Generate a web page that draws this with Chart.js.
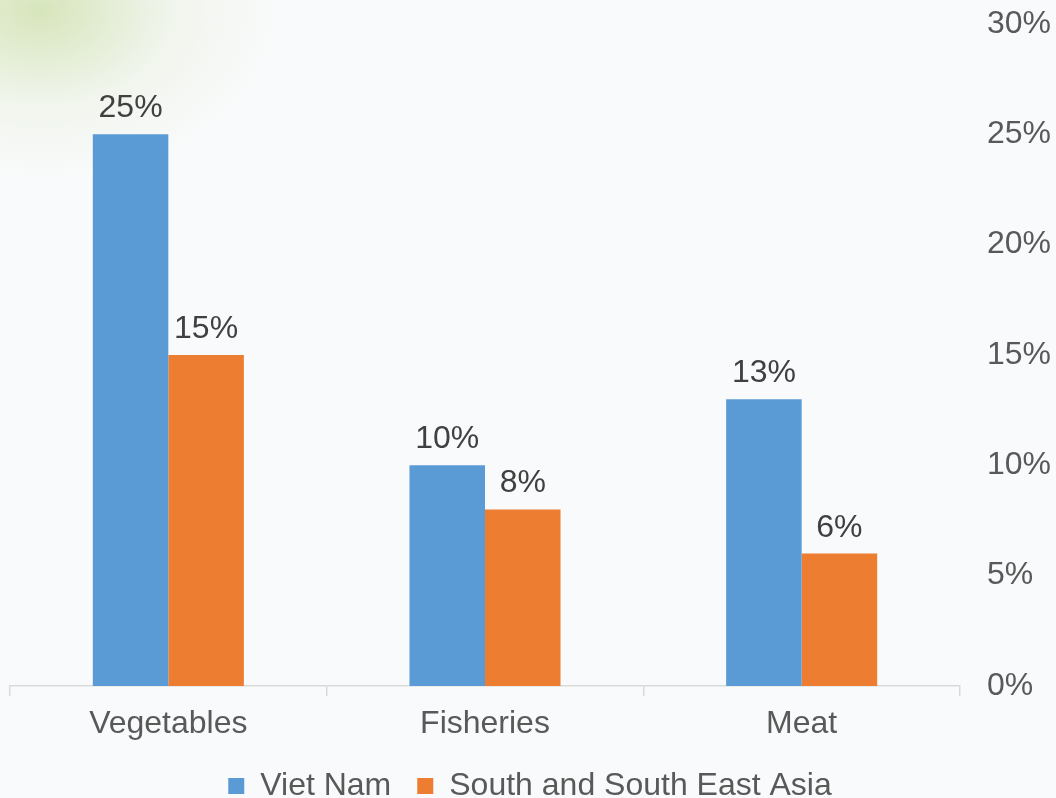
<!DOCTYPE html>
<html>
<head>
<meta charset="utf-8">
<script src="https://cdn.jsdelivr.net/npm/chart.js@4"></script>
<style>
	html, body { margin: 0; padding: 0; }
	body {
		width: 1056px; height: 798px; overflow: hidden;
		background: radial-gradient(ellipse 240px 170px at 40px 10px, rgba(200,220,160,0.7), rgba(225,236,210,0.35) 55%, rgba(250,251,252,0) 100%), #f9fafb;
	}
	#wrap { width: 1056px; height: 798px; position: relative; }
</style>
</head>
<body>
<div id="wrap"><canvas id="chart"></canvas></div>
<script>
var categories = ["Vegetables", "Fisheries", "Meat"];
var vietNam = [25, 10, 13];
var southAsia = [15, 8, 6];
var seriesNames = ["Viet Nam", "South and South East Asia"];
var yTicks = [0, 5, 10, 15, 20, 25, 30];

// draws the value above each bar
var valueLabels = {
	id: "valueLabels",
	afterDatasetsDraw: function(chart){
		var ctx = chart.ctx;
		ctx.save();
		ctx.font = "32px 'Liberation Sans', Arial, sans-serif";
		ctx.fillStyle = "#404040";
		ctx.textAlign = "center";
		ctx.textBaseline = "alphabetic";
		chart.data.datasets.forEach(function(ds, i){
			var meta = chart.getDatasetMeta(i);
			meta.data.forEach(function(bar, j){
				ctx.fillText(ds.data[j] + "%", bar.x, bar.y - 17);
			});
		});
		ctx.restore();
	}
};

Chart.defaults.font.family = "'Liberation Sans', Arial, sans-serif";
Chart.defaults.color = "#595959";

new Chart(document.getElementById("chart"), {
	type: "bar",
	data: {
		labels: categories,
		datasets: [{
			label: seriesNames[0],
			data: vietNam,
			backgroundColor: "#5B9BD5",
			barPercentage: 1,
			categoryPercentage: 0.477
		}, {
			label: seriesNames[1],
			data: southAsia,
			backgroundColor: "#ED7D31",
			barPercentage: 1,
			categoryPercentage: 0.477
		}]
	},
	options: {
		responsive: true,
		maintainAspectRatio: false,
		animation: false,
		layout: { padding: { top: 24, left: 10, right: 6, bottom: -14 } },
		plugins: {
			legend: {
				position: "bottom",
				labels: {
					boxWidth: 16,
					boxHeight: 16,
					padding: 26,
					font: { size: 32 },
					color: "#595959"
				}
			},
			tooltip: { enabled: false }
		},
		scales: {
			x: {
				grid: {
					offset: true,
					drawOnChartArea: false,
					drawTicks: true,
					tickLength: 10,
					color: "#D9D9D9",
					lineWidth: 1.5
				},
				border: { color: "#D9D9D9", width: 1.5 },
				ticks: { font: { size: 32 }, color: "#595959", padding: 9 },
				afterFit: function(axis){ axis.height = 58; }
			},
			y: {
				position: "right",
				min: 0,
				max: 30,
				afterBuildTicks: function(axis){
					axis.ticks = yTicks.map(function(v){ return { value: v }; });
				},
				grid: { display: false },
				border: { display: false },
				ticks: {
					font: { size: 32 },
					color: "#595959",
					padding: 19,
					callback: function(v){ return v + "%"; }
				},
				afterFit: function(axis){
					axis.width = 90;
					axis.paddingTop = 0;
					axis.paddingBottom = 0;
				}
			}
		}
	},
	plugins: [valueLabels]
});
</script>
</body>
</html>
